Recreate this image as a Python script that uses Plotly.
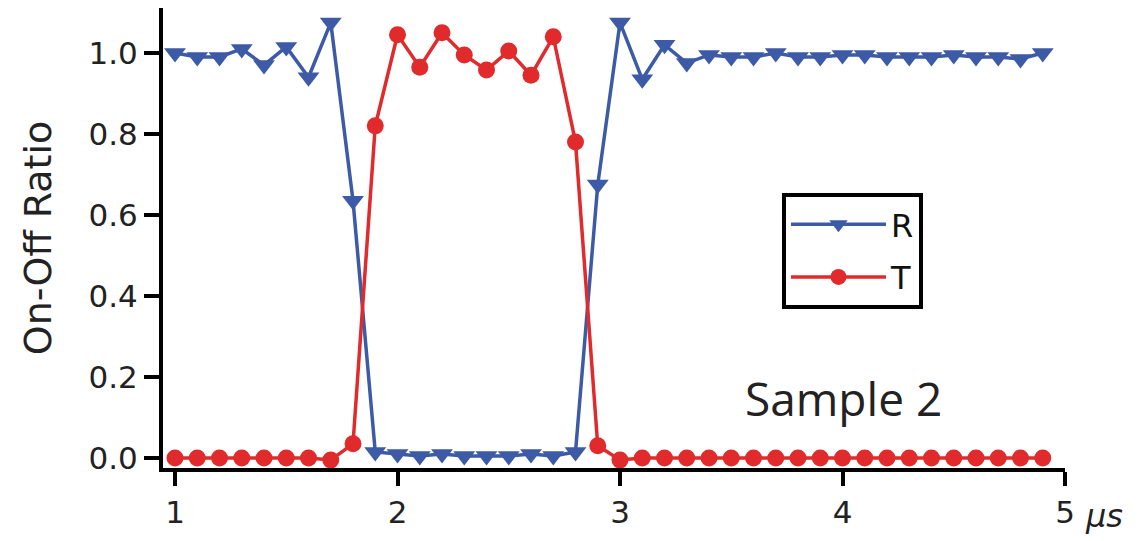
import plotly.graph_objects as go

time_us = [1.0, 1.1, 1.2, 1.3, 1.4, 1.5, 1.6, 1.7, 1.8, 1.9,
           2.0, 2.1, 2.2, 2.3, 2.4, 2.5, 2.6, 2.7, 2.8, 2.9,
           3.0, 3.1, 3.2, 3.3, 3.4, 3.5, 3.6, 3.7, 3.8, 3.9,
           4.0, 4.1, 4.2, 4.3, 4.4, 4.5, 4.6, 4.7, 4.8, 4.9]

r_ratio = [1.00, 0.99, 0.99, 1.01, 0.97, 1.015, 0.94, 1.075, 0.635, 0.015,
           0.01, 0.005, 0.01, 0.005, 0.005, 0.005, 0.01, 0.005, 0.015, 0.675,
           1.075, 0.935, 1.02, 0.975, 0.995, 0.99, 0.99, 1.0, 0.99, 0.99,
           0.995, 0.995, 0.99, 0.99, 0.99, 0.995, 0.99, 0.99, 0.985, 1.0]

t_ratio = [0.0, 0.0, 0.0, 0.0, 0.0, 0.0, 0.0, -0.005, 0.035, 0.82,
           1.045, 0.965, 1.05, 0.995, 0.958, 1.005, 0.945, 1.04, 0.78, 0.03,
           -0.005, 0.0, 0.0, 0.0, 0.0, 0.0, 0.0, 0.0, 0.0, 0.0,
           0.0, 0.0, 0.0, 0.0, 0.0, 0.0, 0.0, 0.0, 0.0, 0.0]

x_ticks = [1, 2, 3, 4, 5]
x_ticktext = ["1", "2", "3", "4", "5"]
y_ticks = [0.0, 0.2, 0.4, 0.6, 0.8, 1.0]
y_ticktext = ["0.0", "0.2", "0.4", "0.6", "0.8", "1.0"]

BLUE = "#3d5aa6"
RED = "#e02a2b"
TICKFONT = dict(family="DejaVu Sans", size=31, color="#222222")

# page body has an 8px margin; plot area spans screen x 163..1065, y 8..468
PLOT_W = 902
PLOT_H = 460


def px(X):
    return (X - 163) / PLOT_W


def py(Y):
    return (468 - Y) / PLOT_H


fig = go.Figure()
fig.add_trace(go.Scatter(
    x=time_us, y=r_ratio, name="R", mode="lines+markers", legendgroup="r",
    line=dict(color=BLUE, width=3.5),
    marker=dict(symbol="triangle-down", size=19, color=BLUE),
))
fig.add_trace(go.Scatter(
    x=time_us, y=t_ratio, name="T", mode="lines+markers", legendgroup="t",
    line=dict(color=RED, width=3.5),
    marker=dict(symbol="circle", size=17, color=RED),
))

fig.update_layout(
    width=1147, height=541,
    margin=dict(l=155, r=90, t=0, b=81, autoexpand=False),
    paper_bgcolor="white", plot_bgcolor="white",
    showlegend=True,
    legend=dict(
        x=px(782), y=py(193),
        xanchor="left", yanchor="top",
        bordercolor="black", borderwidth=4, bgcolor="white",
        font=dict(family="DejaVu Sans", size=32, color="#111111"),
        itemwidth=95, tracegroupgap=8,
    ),
    xaxis=dict(
        range=[0.946, 5.0], showgrid=False, zeroline=False,
        showline=True, linecolor="black", linewidth=4,
        ticks="outside", ticklen=14, tickwidth=4, tickcolor="black",
        tickvals=x_ticks, ticktext=x_ticktext, tickfont=TICKFONT,
    ),
    yaxis=dict(
        range=[-0.0247, 1.111], showgrid=False, zeroline=False,
        showline=True, linecolor="black", linewidth=4,
        ticks="outside", ticklen=15, tickwidth=4, tickcolor="black",
        tickvals=y_ticks, ticktext=y_ticktext, tickfont=TICKFONT,
        title=dict(text="On-Off Ratio", standoff=26,
                   font=dict(family="DejaVu Sans", size=38, color="#222222")),
    ),
    annotations=[
        dict(text="<i>μs</i>", xref="paper", yref="paper",
             x=px(1083), y=py(516),
             xanchor="left", yanchor="middle", showarrow=False,
             font=dict(family="DejaVu Sans", size=32, color="#222222")),
        dict(text="Sample 2", xref="paper", yref="paper",
             x=px(843), y=py(398),
             xanchor="center", yanchor="middle", showarrow=False,
             font=dict(family="Open Sans", size=46, color="#222222")),
    ],
)

fig.write_html("out.html")
